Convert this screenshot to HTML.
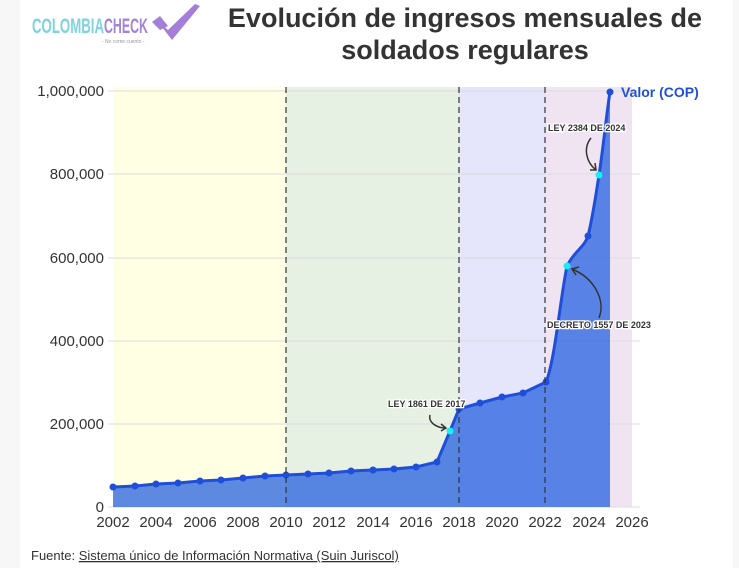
<!DOCTYPE html>
<html><head><meta charset="utf-8"><style>
body{margin:0;width:739px;height:568px;background:#f7f7f7;font-family:"Liberation Sans",sans-serif;overflow:hidden}
#p{position:absolute;left:20px;top:0;width:713px;height:568px;background:#fff}
</style></head><body><div id="p"></div>
<svg width="739" height="568" style="position:absolute;left:0;top:0" font-family="Liberation Sans, sans-serif">
<text x="32" y="33" font-size="21" font-weight="bold" fill="#7fd3dd" textLength="72" lengthAdjust="spacingAndGlyphs">COLOMBIA</text>
<text x="104" y="33" font-size="21" font-weight="bold" fill="#a384d6" textLength="44" lengthAdjust="spacingAndGlyphs">CHECK</text>
<text x="102" y="43" font-size="5" fill="#999">- No come cuento -</text>
<path d="M155 18 L168 30 L195 4 L200 6 L172 40 Z" fill="#a47fd8"/>
<path d="M152 22 L160 16 L168 26 L160 30Z" fill="#a47fd8"/>
<text x="465" y="27" font-size="27" font-weight="bold" fill="#333" text-anchor="middle">Evolución de ingresos mensuales de</text>
<text x="465" y="59" font-size="27" font-weight="bold" fill="#333" text-anchor="middle">soldados regulares</text>
<rect x="113" y="87" width="173" height="420" fill="#ffffe3"/>
<rect x="286" y="87" width="173" height="420" fill="#e6f0e3"/>
<rect x="459" y="87" width="86" height="420" fill="#e5e5fc"/>
<rect x="545" y="87" width="87" height="420" fill="#f0e4f2"/>
<g stroke="#dcdcdc" stroke-width="1">
<line x1="108" x2="640" y1="91" y2="91"/><line x1="108" x2="640" y1="174" y2="174"/><line x1="108" x2="640" y1="258" y2="258"/><line x1="108" x2="640" y1="341" y2="341"/><line x1="108" x2="640" y1="424" y2="424"/><line x1="108" x2="640" y1="507" y2="507"/>
</g>
<path d="M113 487 L135 486 L156 484 L178 483 L200 481 L221 480 L243 478 L265 476 L286 475 L308 474 L329 473 L351 471 L373 470 L394 469 L416 467 L437 462 L450 431 L459 409 L480 403 L502 397 L523 393 L546 382 C555 360 560 300 567 266 C575 250 584 248 588 236 C592 220 596 195 599 175 C603 150 607 110 610 92 L610 507 L113 507 Z" fill="#1e5be0" fill-opacity="0.72"/>
<path d="M113 487 L135 486 L156 484 L178 483 L200 481 L221 480 L243 478 L265 476 L286 475 L308 474 L329 473 L351 471 L373 470 L394 469 L416 467 L437 462 L450 431 L459 409 L480 403 L502 397 L523 393 L546 382 C555 360 560 300 567 266 C575 250 584 248 588 236 C592 220 596 195 599 175 C603 150 607 110 610 92" fill="none" stroke="#1f4fd8" stroke-width="3"/>
<g fill="#1f4fd8">
<circle cx="113" cy="487" r="3.5"/><circle cx="135" cy="486" r="3.5"/><circle cx="156" cy="484" r="3.5"/><circle cx="178" cy="483" r="3.5"/><circle cx="200" cy="481" r="3.5"/><circle cx="221" cy="480" r="3.5"/><circle cx="243" cy="478" r="3.5"/><circle cx="265" cy="476" r="3.5"/><circle cx="286" cy="475" r="3.5"/><circle cx="308" cy="474" r="3.5"/><circle cx="329" cy="473" r="3.5"/><circle cx="351" cy="471" r="3.5"/><circle cx="373" cy="470" r="3.5"/><circle cx="394" cy="469" r="3.5"/><circle cx="416" cy="467" r="3.5"/><circle cx="437" cy="462" r="3.5"/><circle cx="459" cy="409" r="3.5"/><circle cx="480" cy="403" r="3.5"/><circle cx="502" cy="397" r="3.5"/><circle cx="523" cy="393" r="3.5"/><circle cx="546" cy="382" r="3.5"/><circle cx="588" cy="236" r="3.5"/><circle cx="610" cy="92" r="3.5"/>
</g>
<g fill="#17f0f0"><circle cx="450" cy="431" r="3.5"/><circle cx="567" cy="266" r="3.5"/><circle cx="599" cy="175" r="3.5"/></g>
<g stroke="#333" stroke-width="1.2" stroke-dasharray="6,4"><line x1="286" x2="286" y1="87" y2="507"/><line x1="459" x2="459" y1="87" y2="507"/><line x1="545" x2="545" y1="87" y2="507"/></g>
<g font-size="15" fill="#333" text-anchor="end">
<text x="104" y="96">1,000,000</text><text x="104" y="179">800,000</text><text x="104" y="263">600,000</text><text x="104" y="346">400,000</text><text x="104" y="429">200,000</text><text x="104" y="512">0</text>
</g>
<g font-size="15" fill="#333" text-anchor="middle">
<text x="113" y="527">2002</text><text x="156" y="527">2004</text><text x="200" y="527">2006</text><text x="243" y="527">2008</text><text x="286" y="527">2010</text><text x="329" y="527">2012</text><text x="373" y="527">2014</text><text x="416" y="527">2016</text><text x="459" y="527">2018</text><text x="502" y="527">2020</text><text x="545" y="527">2022</text><text x="589" y="527">2024</text><text x="632" y="527">2026</text>
</g>
<text x="621" y="97" font-size="14" font-weight="bold" fill="#1f4fd8">Valor (COP)</text>
<g font-size="9" font-weight="bold" fill="#333" stroke="#fff" stroke-width="2.5" paint-order="stroke">
<text x="388" y="407">LEY 1861 DE 2017</text><text x="548" y="131">LEY 2384 DE 2024</text><text x="547" y="328">DECRETO 1557 DE 2023</text>
</g>
<g fill="none" stroke="#333" stroke-width="1.5">
<path d="M430 415 C428 422 436 428 446 428"/><path d="M441 424 L446 428 L441 431"/>
<path d="M591 138 C583 148 586 162 596 170"/><path d="M590 170 L596 170 L595 163"/>
<path d="M599 318 C606 300 594 278 572 269"/><path d="M576 275 L572 269 L579 267"/>
</g>
<text x="31" y="560" font-size="13" fill="#333">Fuente: <tspan text-decoration="underline">Sistema único de Información Normativa (Suin Juriscol)</tspan></text>
</svg></body></html>
